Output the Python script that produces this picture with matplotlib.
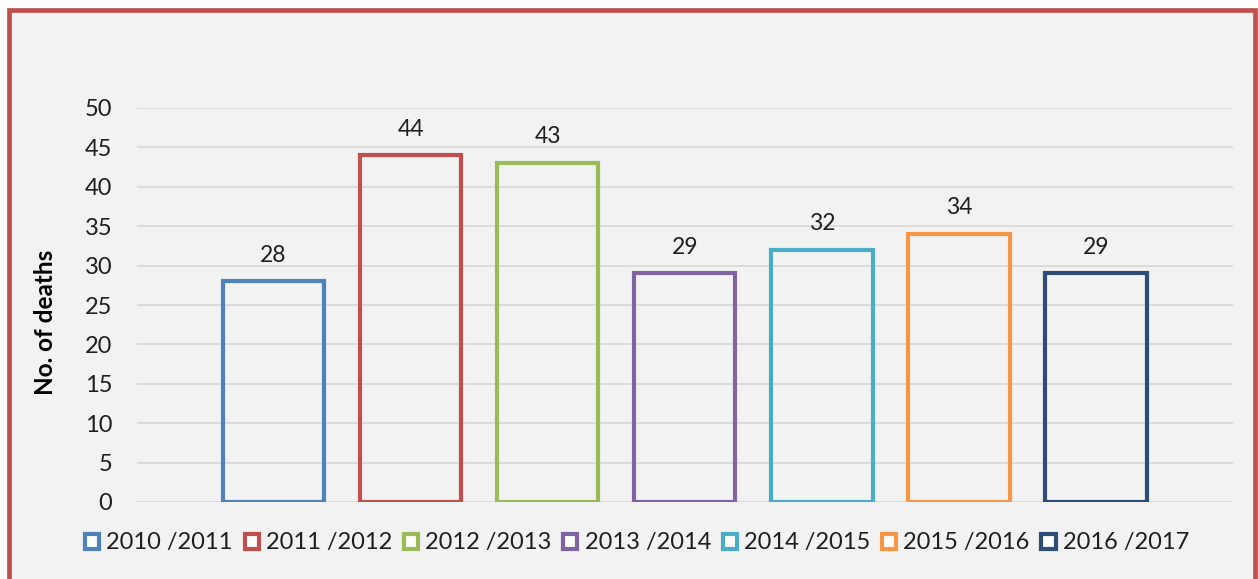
import numpy as np
import matplotlib.pyplot as plt
from matplotlib.patches import Rectangle, Patch

# Deaths per year
seasons = ["2010 /2011", "2011 /2012", "2012 /2013", "2013 /2014",
           "2014 /2015", "2015 /2016", "2016 /2017"]
deaths = [28, 44, 43, 29, 32, 34, 29]
colors = ["#4f81bd", "#c0504d", "#9bbb59", "#8064a2",
          "#4bacc6", "#f79646", "#2c4d75"]
yticks = [0, 5, 10, 15, 20, 25, 30, 35, 40, 45, 50]

plt.rcParams['font.family'] = ['Lato', 'DejaVu Sans']

fig = plt.figure(figsize=(12.58, 5.79), dpi=100)
fig.patch.set_facecolor("white")

# red frame around the chart area
W, H = 1258, 579
frame = Rectangle((8.5 / W, -0.05), (1255 - 8.5) / W, 1.05 - 9.5 / H,
                  transform=fig.transFigure, facecolor="#f2f2f2",
                  edgecolor="#c0504d", linewidth=3.4, zorder=-5)
fig.patches.append(frame)

ax = fig.add_axes([136.5 / W, 1 - 502 / H, (1233 - 136.5) / W, (502 - 108) / H])
ax.set_zorder(2)
ax.set_facecolor("none")

x = np.arange(1, len(deaths) + 1)
ax.bar(x, deaths, width=0.74, facecolor="none", edgecolor=colors,
       linewidth=3.0, zorder=3)
for xi, d in zip(x, deaths):
    ax.text(xi, d + 2.0, str(d), ha="center", va="bottom",
            fontsize=16.5, color="#1f1f1f")

ax.set_xlim(0, 8)
ax.set_ylim(0, 50)
ax.set_yticks(yticks)
ax.set_xticks([])
ax.tick_params(axis="y", length=0, labelsize=17, labelcolor="#1f1f1f", pad=17.5)
ax.yaxis.grid(True, color="#d9d9d9", linewidth=1.3)
ax.set_axisbelow(True)
for s in ax.spines.values():
    s.set_visible(False)

ax.set_ylabel("No. of deaths", fontsize=17.5, fontweight="bold")
ax.yaxis.set_label_coords(-0.0725, 0.457)

handles = [Patch(facecolor="white", edgecolor=c, linewidth=3.0) for c in colors]
fig.legend(handles, seasons, loc="center", bbox_to_anchor=(637 / W, 1 - 543 / H),
           ncol=7, frameon=False, fontsize=17, handlelength=0.6, handleheight=0.6,
           handletextpad=0.3, columnspacing=0.5, labelcolor="#1f1f1f")

fig.savefig("out.png", dpi=100, facecolor=fig.get_facecolor())
